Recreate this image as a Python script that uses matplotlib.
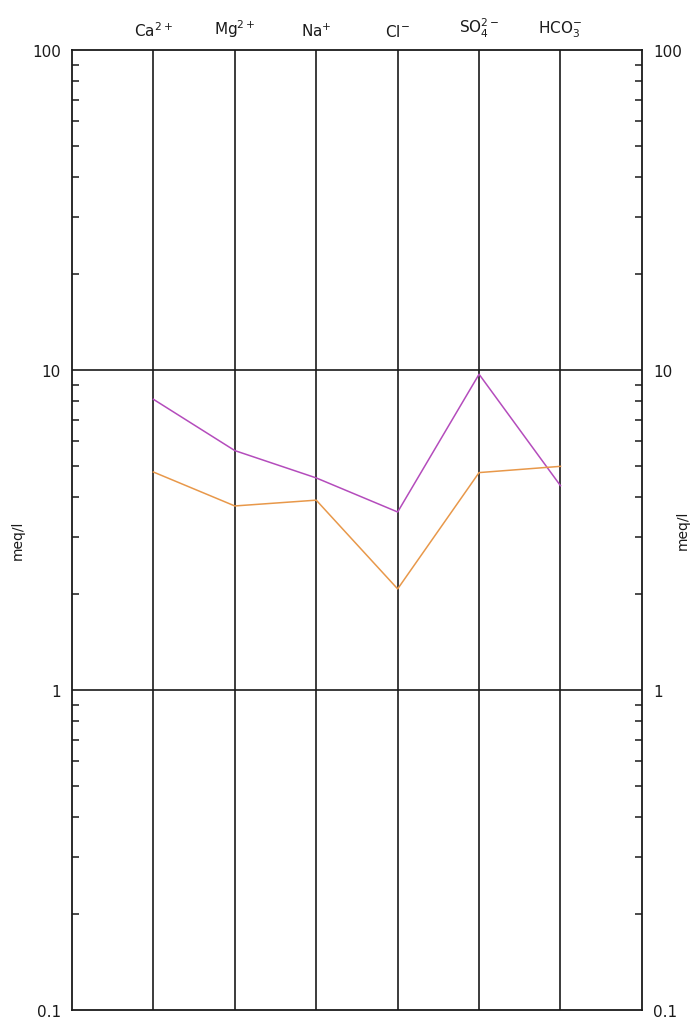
import matplotlib
matplotlib.use("Agg")
import matplotlib.pyplot as plt
from matplotlib.ticker import LogLocator, NullFormatter, FixedLocator, FixedFormatter

plt.rcParams['mathtext.default'] = 'regular'
plt.rcParams['font.family'] = ['DejaVu Sans']

ions = [r'Ca$^{2+}$', r'Mg$^{2+}$', r'Na$^{+}$', r'Cl$^{-}$', r'SO$_4^{2-}$', r'HCO$_3^{-}$']
sample_purple = [8.1, 5.6, 4.6, 3.6, 9.7, 4.35]
sample_orange = [4.8, 3.76, 3.92, 2.07, 4.78, 5.0]
ytick_vals = [0.1, 1, 10, 100]
ytick_labels = ['0.1', '1', '10', '100']

fig = plt.figure(figsize=(6.9, 10.2), dpi=100)
ax = fig.add_axes([0.1043, 0.0088, 0.826, 0.9412])

x = list(range(1, len(ions) + 1))
ax.set_xlim(0, len(ions) + 1)
ax.set_yscale('log')
ax.set_ylim(0.1, 100)

# vertical grid lines for each ion
for xi in x:
    ax.axvline(xi, color='#1a1a1a', lw=1.2, zorder=1)
# horizontal decade lines
for v in ytick_vals[1:-1]:
    ax.axhline(v, color='#1a1a1a', lw=1.2, zorder=1)

ax.plot(x, sample_purple, color='#b44cbc', lw=1.1, zorder=3)
ax.plot(x, sample_orange, color='#e8984a', lw=1.1, zorder=3)

for s in ax.spines.values():
    s.set_color('#1a1a1a')
    s.set_linewidth(1.3)

ax.yaxis.set_major_locator(FixedLocator(ytick_vals))
ax.yaxis.set_major_formatter(FixedFormatter(ytick_labels))
ax.yaxis.set_minor_locator(LogLocator(base=10, subs=range(2, 10)))
ax.yaxis.set_minor_formatter(NullFormatter())
ax.tick_params(axis='y', which='major', length=0, labelsize=11, pad=8,
               left=True, right=True, labelleft=True, labelright=True, colors='#1a1a1a')
ax.tick_params(axis='y', which='minor', direction='in', length=5, width=1.1,
               left=True, right=True, colors='#1a1a1a')

ax.xaxis.set_major_locator(FixedLocator(x))
ax.xaxis.set_major_formatter(FixedFormatter(ions))
ax.tick_params(axis='x', which='both', length=0, labelsize=11, pad=8,
               top=True, bottom=False, labeltop=True, labelbottom=False, colors='#1a1a1a')

ax.set_ylabel('meq/l', fontsize=10, color='#1a1a1a')
ax.yaxis.set_label_coords(-0.082, 0.49)
fig.text(0.9995, 0.48, 'meq/l', rotation=90, fontsize=10, color='#1a1a1a',
         ha='right', va='center')

fig.savefig('out.png', dpi=100, facecolor='white')
